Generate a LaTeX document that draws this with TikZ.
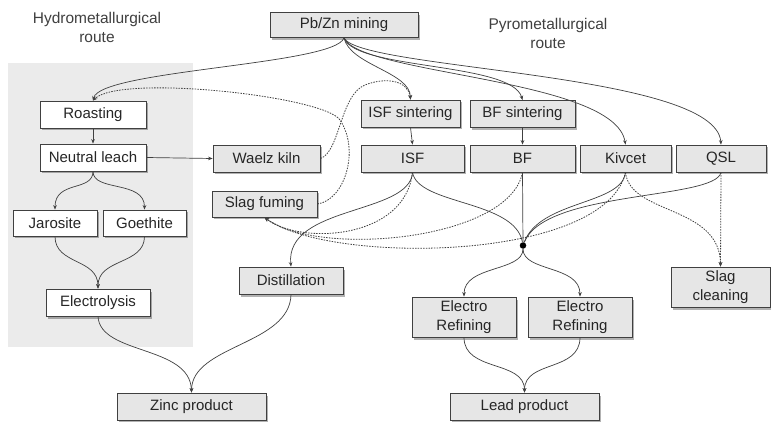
\documentclass[tikz,border=0pt]{standalone}
\usepackage{fontspec}
\setmainfont{Liberation Sans}
\usetikzlibrary{arrows.meta,shadows}
\definecolor{boxgray}{HTML}{E6E6E6}
\definecolor{bggray}{HTML}{EBEBEB}
\definecolor{linegray}{HTML}{404040}
\begin{document}
\begin{tikzpicture}[x=1pt,y=-1pt,
  every node/.style={font=\fontsize{15}{18.5}\selectfont, text=black!85},
  sz/.style 2 args={minimum width=#1pt, minimum height=#2pt},
  box/.style={draw=linegray, line width=0.8pt, fill=boxgray, inner sep=0pt, align=center,
    drop shadow={shadow xshift=2pt, shadow yshift=-2.5pt, opacity=0.3, fill=black}},
  wbox/.style={box, fill=white},
  title/.style={align=center, font=\fontsize{15.5}{19}\selectfont, text=black!75},
  ln/.style={draw=linegray, line width=0.7pt},
  arr/.style={ln, -{Stealth[length=4.5pt,width=3.6pt]}},
  dl/.style={line width=0.8pt, dash pattern=on 1.5pt off 1.2pt}
]
\useasboundingbox (0,0) rectangle (771,422);
\fill[white] (0,0) rectangle (771,422);
\fill[bggray] (8,63) rectangle (193,347);

% titles
\node[title] (thydro) at (97,27) {Hydrometallurgical\\route};
\node[title] (tpyro) at (548,33) {Pyrometallurgical\\route};

% nodes
\node[box, sz={148}{25}] (mining) at (344,25) {Pb/Zn mining};
\node[wbox, sz={106}{27}] (roast) at (93,114.5) {Roasting};
\node[wbox, sz={106}{27}] (leach) at (93,157.5) {Neutral leach};
\node[box, sz={107}{27}] (waelz) at (266.5,158.5) {Waelz kiln};
\node[box, sz={99}{27}] (isfs) at (410.5,113.5) {ISF sintering};
\node[box, sz={105}{27}] (bfs) at (522.5,114) {BF sintering};
\node[box, sz={103}{27}] (isf) at (412.5,158.5) {ISF};
\node[box, sz={105}{27}] (bf) at (522.5,158.5) {BF};
\node[box, sz={91}{27}] (kiv) at (625.5,158.5) {Kivcet};
\node[box, sz={90}{27}] (qsl) at (721,158.5) {QSL};
\node[box, sz={105}{26}] (fum) at (264.5,204) {Slag fuming};
\node[wbox, sz={84}{26}] (jar) at (55,223) {Jarosite};
\node[wbox, sz={83}{26}] (goe) at (144.5,223) {Goethite};
\node[wbox, sz={104}{27}] (elec) at (98,302.5) {Electrolysis};
\node[box, sz={104}{27}] (dist) at (291,280.5) {Distillation};
\node[box, sz={104}{40}] (er1) at (464,317) {Electro\\Refining};
\node[box, sz={104}{40}] (er2) at (580,317) {Electro\\Refining};
\node[box, sz={99}{40}] (slagc) at (720.5,287) {Slag\\cleaning};
\node[box, sz={149}{27}] (zinc) at (191.5,406.5) {Zinc product};
\node[box, sz={149}{27}] (lead) at (524.5,406.5) {Lead product};
\node[circle, fill=black, inner sep=0pt, minimum size=6.5pt] (j) at (523,245.5) {};

% mining fan-out
\draw[arr] (mining.south) .. controls (335,65) and (100,70) .. (roast.north);
\draw[arr] (mining.south) .. controls (350,65) and (410,72) .. (isfs.north);
\draw[arr] (mining.south) .. controls (355,70) and (512,62) .. (bfs.north);
\draw[arr] (mining.south) .. controls (360,75) and (615,78) .. (kiv.north);
\draw[arr] (mining.south) .. controls (360,70) and (716,72) .. (qsl.north);

% straight links
\draw[arr] (roast.south) -- (leach.north);
\draw[arr] (leach.east) -- (waelz.west);
\draw[arr] (isfs.south) -- (isf.north);
\draw[arr] (bfs.south) -- (bf.north);

% hydro branch
\draw[arr] (leach.south) .. controls (93,192) and (55,180) .. (jar.north);
\draw[arr] (leach.south) .. controls (93,192) and (144.5,180) .. (goe.north);
\draw[arr] (jar.south) .. controls (55,265) and (98,258) .. (elec.north);
\draw[arr] (goe.south) .. controls (144.5,265) and (98,258) .. (elec.north);
\draw[arr] (elec.south) .. controls (100,355) and (190,345) .. (zinc.north);
\draw[arr] (dist.south) .. controls (290,345) and (192,345) .. (zinc.north);

% dashed recycling
\coordinate (c1) at (340,120);
\draw[arr, dl] (fum.east) .. controls (345,200) and (360,150) .. (c1)
   .. controls (324,96) and (120,74) .. (roast.north);
\coordinate (c2) at (365,85);
\draw[arr, dl] (waelz.east) .. controls (340,152) and (340,95) .. (c2)
   .. controls (385,77) and (408,80) .. (isfs.north);

% pyro outputs
\draw[arr] (isf.south) .. controls (410,215) and (285,205) .. (dist.north);
\draw[ln] (isf.south) .. controls (418,205) and (515,200) .. (j);
\draw[ln] (bf.south) -- (j);
\draw[ln] (kiv.south) .. controls (622,205) and (540,200) .. (j);
\draw[ln] (qsl.south) .. controls (715,200) and (545,190) .. (j);

% slag to fuming
\draw[arr, dl] (isf.south) .. controls (405,240) and (300,245) .. (fum.south);
\draw[arr, dl] (bf.south) .. controls (510,240) and (320,258) .. (fum.south);
\draw[arr, dl] (kiv.south) .. controls (605,262) and (330,265) .. (fum.south);

% slag cleaning
\draw[arr, dl] (kiv.south) .. controls (630,215) and (720,205) .. (slagc.north);
\draw[arr, dl] (qsl.south) -- (slagc.north);

% lead refining
\draw[arr] (j) .. controls (523,272) and (464,265) .. (er1.north);
\draw[arr] (j) .. controls (523,272) and (580,265) .. (er2.north);
\draw[arr] (er1.south) .. controls (464,372) and (524.5,360) .. (lead.north);
\draw[arr] (er2.south) .. controls (580,372) and (524.5,360) .. (lead.north);
\end{tikzpicture}
\end{document}
